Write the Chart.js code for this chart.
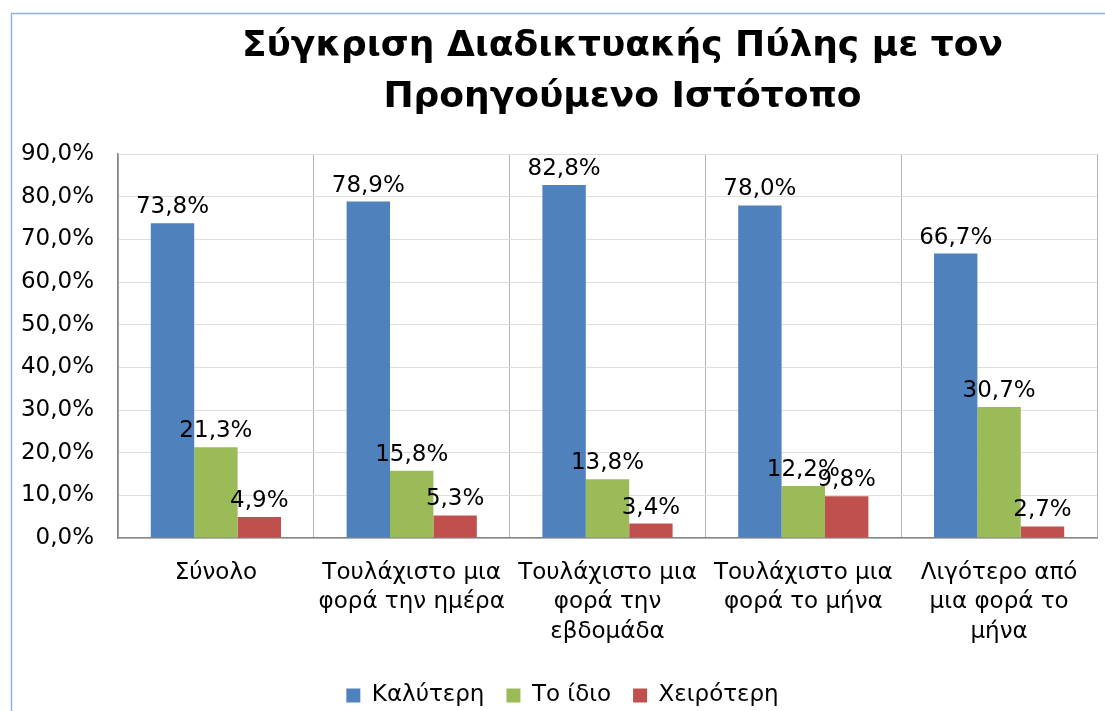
<!DOCTYPE html>
<html>
<head>
<meta charset="utf-8">
<script src="https://cdn.jsdelivr.net/npm/chart.js@4/dist/chart.umd.min.js"></script>
<style>
  html, body { margin: 0; padding: 0; background: #fff; overflow: hidden; }
  #wrap { width: 1105px; height: 711px; }
</style>
</head>
<body>
<div id="wrap"><canvas id="compareChart"></canvas></div>
<script>
var categories = [
  "Σύνολο",
  ["Τουλάχιστο μια", "φορά την ημέρα"],
  ["Τουλάχιστο μια", "φορά την", "εβδομάδα"],
  ["Τουλάχιστο μια", "φορά το μήνα"],
  ["Λιγότερο από", "μια φορά το", "μήνα"]
];
var seriesNames = ["Καλύτερη", "Το ίδιο", "Χειρότερη"];
var better = [73.8, 78.9, 82.8, 78.0, 66.7];
var same = [21.3, 15.8, 13.8, 12.2, 30.7];
var worse = [4.9, 5.3, 3.4, 9.8, 2.7];
var yTicks = [0, 10, 20, 30, 40, 50, 60, 70, 80, 90];

var FONT = "'DejaVu Sans', Verdana, sans-serif";

function pct(v) {
  return v.toFixed(1).replace(".", ",") + "%";
}

// light blue frame of the chart object
var framePlugin = {
  id: "frame",
  beforeDraw: function (chart) {
    var c = chart.ctx;
    c.save();
    c.fillStyle = "#ffffff";
    c.fillRect(0, 0, chart.width, chart.height);
    c.strokeStyle = "#8db3e2";
    c.lineWidth = 1.5;
    c.strokeRect(11.5, 13.5, 3000, 3000);
    c.restore();
  }
};

// the original chart is wider than the crop, nudge title and legend over
var shiftBoxes = {
  id: "shiftBoxes",
  afterLayout: function (chart) {
    if (chart.titleBlock) {
      chart.titleBlock.left += 15;
      chart.titleBlock.right += 15;
    }
    if (chart.legend) {
      chart.legend.left += 14;
      chart.legend.right += 14;
      chart.legend.top += 6;
      chart.legend.bottom += 6;
    }
  }
};

// value labels above each bar
var valueLabels = {
  id: "valueLabels",
  afterDatasetsDraw: function (chart) {
    var c = chart.ctx;
    c.save();
    c.font = "23px " + FONT;
    c.fillStyle = "#000";
    c.textAlign = "center";
    c.textBaseline = "alphabetic";
    chart.data.datasets.forEach(function (ds, i) {
      chart.getDatasetMeta(i).data.forEach(function (bar, j) {
        c.fillText(pct(ds.data[j]), bar.x, bar.y - 10);
      });
    });
    c.restore();
  }
};

var ctx = document.getElementById("compareChart");
var myChart = new Chart(ctx, {
  type: "bar",
  data: {
    labels: categories,
    datasets: [
      { label: seriesNames[0], data: better, backgroundColor: "#4f81bd" },
      { label: seriesNames[1], data: same, backgroundColor: "#9bbb59" },
      { label: seriesNames[2], data: worse, backgroundColor: "#c0504d" }
    ]
  },
  options: {
    responsive: true,
    maintainAspectRatio: false,
    animation: false,
    categoryPercentage: 0.665,
    barPercentage: 1.0,
    layout: { padding: { left: 0, right: 8, top: 0, bottom: 0 } },
    plugins: {
      title: {
        display: true,
        fullSize: false,
        text: ["Σύγκριση Διαδικτυακής Πύλης με τον", "Προηγούμενο Ιστότοπο"],
        color: "#000",
        font: { family: FONT, size: 36, weight: "bold", lineHeight: 1.42 },
        padding: { top: 21, bottom: 31 }
      },
      legend: {
        position: "bottom",
        labels: {
          color: "#000",
          font: { family: FONT, size: 23, lineHeight: 1.0 },
          boxWidth: 14,
          boxHeight: 14,
          padding: 22
        }
      },
      tooltip: { enabled: false }
    },
    scales: {
      x: {
        afterFit: function (scale) { scale.height = 118; },
        grid: { color: "#b4b4b4", drawTicks: false, offset: true },
        border: { color: "#868686", width: 1.5 },
        ticks: {
          color: "#000",
          font: { family: FONT, size: 23, lineHeight: 1.28 },
          padding: 20,
          maxRotation: 0,
          autoSkip: false
        }
      },
      y: {
        min: 0,
        max: 90,
        afterFit: function (scale) { scale.width = 118; },
        afterBuildTicks: function (scale) {
          scale.ticks = yTicks.map(function (v) { return { value: v }; });
        },
        grid: { color: "#dedede", drawTicks: false },
        border: { color: "#868686", width: 1.5 },
        ticks: {
          color: "#000",
          font: { family: FONT, size: 23 },
          padding: 24,
          callback: function (v) { return pct(v); }
        }
      }
    }
  },
  plugins: [framePlugin, shiftBoxes, valueLabels]
});
</script>
</body>
</html>
